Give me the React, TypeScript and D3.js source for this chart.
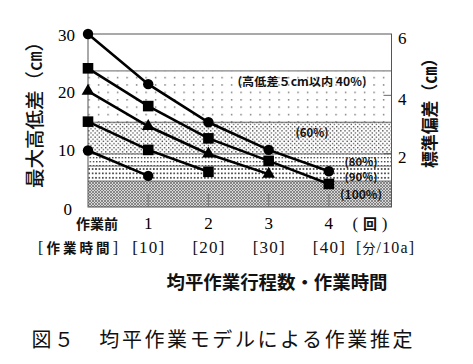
import React from "react";
import * as d3 from "d3";

// ---- data ----
const passes = [0, 1, 2, 3, 4];
const seriesA = [30, 21.3, 14.7, 9.9, 6.2]; // circles
const seriesB = [24.05, 17.5, 11.9, 8.0, 4.0]; // squares
const seriesC = [20.1, 14.0, 9.2, 5.7]; // triangles
const seriesD = [14.8, 9.9, 6.1]; // squares
const seriesE = [9.8, 5.4]; // circles
const bandEdges = [30, 23.6, 14.7, 9.2, 7.1, 4.5, 0];
const bandLabels = ["", "(高低差５cm以内 40%)", "(60%)", "(80%)", "(90%)", "(100%)"];
const leftTicks = [0, 10, 20, 30];
const rightTicks = [2, 4, 6];
const xTickLabels = ["作業前", "1", "2", "3", "4"];
const timeLabels = ["作業時間", "10", "20", "30", "40"];

const W = 473, H = 364;
const left = 88, right = 391.5, top = 34, bottom = 207;

export default function App() {
  const x = d3.scaleLinear().domain([0, 5.04]).range([left, right]);
  const y = d3.scaleLinear().domain([0, 30]).range([bottom, top]);
  const y2 = d3.scaleLinear().domain([0, 6]).range([bottom + 5, top + 3]);
  const line = d3.line<[number, number]>().x((d) => x(d[0])).y((d) => y(d[1]));

  const series = [
    { v: seriesA, m: "circle" },
    { v: seriesB, m: "square" },
    { v: seriesC, m: "triangle" },
    { v: seriesD, m: "square" },
    { v: seriesE, m: "circle" },
  ];
  const fills = ["#fff", "url(#p1)", "url(#p2)", "url(#p3)", "url(#p4)", "url(#p5)"];
  const labelPos = [null, [302, 81], [312, 132], [361, 161], [361, 175.5], [361, 194]];
  const labelW = [0, 129, 33, 33, 33, 42];
  const jp = "'Noto Sans CJK JP', sans-serif";
  const serif = "'Liberation Serif', 'DejaVu Serif', serif";

  return (
    <svg width={W} height={H} style={{ position: "absolute", left: 0, top: 0, background: "#fff" }}>
      <defs>
        <pattern id="p1" patternUnits="userSpaceOnUse" width={9.5} height={7.4}>
          <rect x={3} y={3} width={1.2} height={1.2} fill="#333" />
        </pattern>
        <pattern id="p2" patternUnits="userSpaceOnUse" width={4.2} height={4.2}>
          <rect x={0} y={0} width={1.3} height={1.3} fill="#444" />
          <rect x={2.1} y={2.1} width={1.3} height={1.3} fill="#444" />
        </pattern>
        <pattern id="p3" patternUnits="userSpaceOnUse" width={3.2} height={4}>
          <rect x={0} y={1} width={1.4} height={1.4} fill="#444" />
        </pattern>
        <pattern id="p4" patternUnits="userSpaceOnUse" width={3.4} height={4.4}>
          <rect x={0} y={1} width={1.6} height={1.6} fill="#333" />
        </pattern>
        <pattern id="p5" patternUnits="userSpaceOnUse" width={3} height={3}>
          <rect width={3} height={3} fill="#d8d8d8" />
          <path d="M0,3 L3,0 M0,0 L3,3" stroke="#666" strokeWidth={0.7} />
        </pattern>
      </defs>

      {/* bands */}
      {bandEdges.slice(0, -1).map((hi, i) => {
        const lo = bandEdges[i + 1];
        return (
          <rect key={i} x={left} y={y(hi)} width={right - left} height={y(lo) - y(hi)} fill={fills[i]} />
        );
      })}
      {bandEdges.slice(1, -1).map((v, i) => (
        <line key={i} x1={left} x2={right} y1={y(v)} y2={y(v)} stroke="#555" strokeWidth={0.9} />
      ))}

      {/* frame */}
      <rect x={left} y={top} width={right - left} height={bottom - top} fill="none" stroke="#555" strokeWidth={1} />

      {/* x inner ticks */}
      {passes.slice(1).map((p) => (
        <line key={p} x1={x(p)} x2={x(p)} y1={bottom} y2={bottom - 13} stroke="#666" strokeWidth={0.8} />
      ))}
      {/* right inner ticks */}
      {rightTicks.slice(0, 2).map((t) => (
        <line key={t} x1={right} x2={right - 8} y1={y2(t)} y2={y2(t)} stroke="#555" strokeWidth={0.9} />
      ))}

      {/* band labels */}
      {bandLabels.map((s, i) =>
        s ? (
          <text key={i} x={labelPos[i]![0]} y={labelPos[i]![1]} textAnchor="middle" dominantBaseline="central"
            fontFamily={jp} fontWeight={700} fontSize={i === 3 || i === 4 ? 11 : 11.5} fill="#111"
            textLength={labelW[i]} lengthAdjust="spacingAndGlyphs">{s}</text>
        ) : null
      )}

      {/* series */}
      {series.map((s, si) => {
        const pts: [number, number][] = s.v.map((v, i) => [passes[i], v]);
        return (
          <g key={si}>
            <path d={line(pts) || ""} fill="none" stroke="#000" strokeWidth={2.6} />
            {pts.map((p, i) => {
              const cx = x(p[0]), cy = y(p[1]);
              if (s.m === "circle") return <circle key={i} cx={cx} cy={cy} r={5.2} fill="#000" />;
              if (s.m === "square") return <rect key={i} x={cx - 5.3} y={cy - 5.3} width={10.6} height={10.6} fill="#000" />;
              const sym = d3.symbol().type(d3.symbolTriangle).size(70)();
              return <path key={i} d={sym || ""} transform={`translate(${cx},${cy})`} fill="#000" />;
            })}
          </g>
        );
      })}

      {/* left ticks */}
      {leftTicks.map((t) => (
        <text key={t} x={t === 0 ? 72 : 75} y={t === 0 ? y(t) + 2 : y(t) + 1} textAnchor="end" dominantBaseline="central"
          fontFamily={serif} fontSize={17} fill="#000">{t}</text>
      ))}
      {/* right ticks */}
      {rightTicks.map((t) => (
        <text key={t} x={398} y={y2(t) + (t === 6 ? 1 : 4)} textAnchor="start" dominantBaseline="central"
          fontFamily={serif} fontSize={17} fill="#000">{t}</text>
      ))}

      {/* axis titles */}
      <text transform={`translate(33,110) rotate(-90)`} textAnchor="middle" dominantBaseline="central"
        fontFamily={jp} fontWeight={500} fontSize={19} fill="#111" textLength={156} lengthAdjust="spacingAndGlyphs">最大高低差（㎝）</text>
      <text transform={`translate(428,109) rotate(-90)`} textAnchor="middle" dominantBaseline="central"
        fontFamily={jp} fontWeight={700} fontSize={17} fill="#111" textLength={118} lengthAdjust="spacingAndGlyphs">標準偏差（㎝）</text>

      {/* x labels */}
      {xTickLabels.map((s, i) =>
        i === 0 ? (
          <text key={i} x={97} y={223} textAnchor="middle" dominantBaseline="central"
            fontFamily={jp} fontWeight={700} fontSize={14} fill="#111">{s}</text>
        ) : (
          <text key={i} x={x(passes[i])} y={223} textAnchor="middle" dominantBaseline="central"
            fontFamily={serif} fontSize={17} fill="#000">{s}</text>
        )
      )}
      <text x={370} y={223} textAnchor="middle" dominantBaseline="central" fontFamily={serif}
        fontSize={17} fill="#111" textLength={35} lengthAdjust="spacing">
        (<tspan fontFamily={jp} fontWeight={700} fontSize={14}>回</tspan>)
      </text>

      {timeLabels.map((s, i) =>
        i === 0 ? (
          <text key={i} x={78} y={247} textAnchor="middle" dominantBaseline="central"
            fontFamily={serif} fontSize={16} fill="#111" textLength={80} lengthAdjust="spacing">
            [<tspan fontFamily={jp} fontWeight={700} fontSize={13.5}>{s}</tspan>]
          </text>
        ) : (
          <text key={i} x={x(passes[i])} y={247} textAnchor="middle" dominantBaseline="central"
            fontFamily={serif} fontSize={17} fill="#111" textLength={32} lengthAdjust="spacing">[{s}]</text>
        )
      )}
      <text x={385} y={247} textAnchor="middle" dominantBaseline="central" fontFamily={serif}
        fontSize={16} fill="#111" textLength={58} lengthAdjust="spacing">
        [<tspan fontFamily={jp} fontSize={13}>分</tspan>/10a]
      </text>

      <text x={277} y={281} textAnchor="middle" dominantBaseline="central" fontFamily={jp} fontWeight={700}
        fontSize={18} fill="#111" textLength={221} lengthAdjust="spacingAndGlyphs">均平作業行程数・作業時間</text>

      <text x={222} y={338} textAnchor="middle" dominantBaseline="central" fontFamily={jp} fontWeight={400}
        fontSize={20} fill="#111" textLength={381} lengthAdjust="spacing">図５　均平作業モデルによる作業推定</text>
    </svg>
  );
}
